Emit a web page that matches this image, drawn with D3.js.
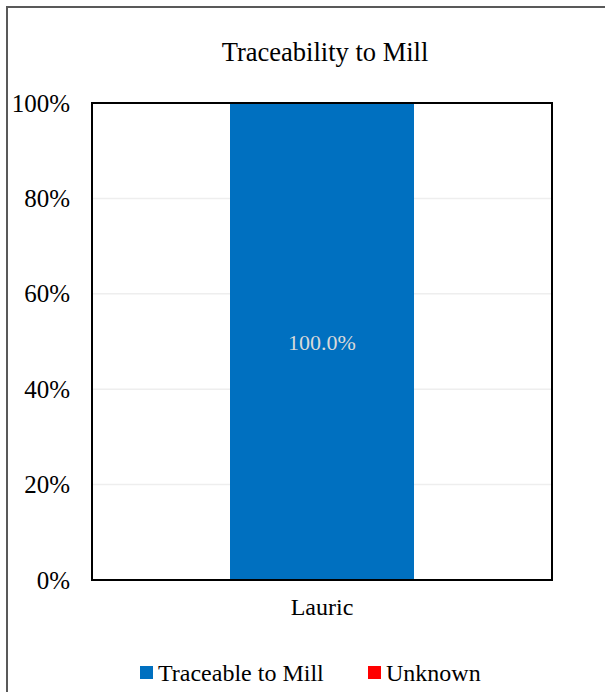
<!DOCTYPE html>
<html>
<head>
<meta charset="utf-8">
<script src="https://cdn.jsdelivr.net/npm/d3@7"></script>
<style>
  body { margin: 0; background: #fff; }
</style>
</head>
<body>
<div id="chartArea"></div>
<script>
const svgWidth = 605;
const svgHeight = 692;
const serif = '"Liberation Serif", "Times New Roman", serif';

const categories = ['Lauric'];
const seriesNames = ['Traceable to Mill', 'Unknown'];
const seriesColors = ['#0070c0', '#ff0000'];
const traceable = [1.0];
const unknown = [0.0];
const yTicks = [0, 0.2, 0.4, 0.6, 0.8, 1.0];

const margin = { left: 92, right: 53, top: 103, bottom: 112 };

const canvas = d3.select('#chartArea')
  .append('svg')
  .attr('width', svgWidth)
  .attr('height', svgHeight)
  .style('font-family', serif);

// outer chart frame
canvas.append('rect')
  .attr('x', 7)
  .attr('y', 7)
  .attr('width', 620)
  .attr('height', 720)
  .attr('fill', '#fff')
  .attr('stroke', '#595959')
  .attr('stroke-width', 2);

canvas.append('text')
  .attr('x', 325)
  .attr('y', 61)
  .attr('text-anchor', 'middle')
  .style('font-family', serif)
  .style('font-size', '26.5px')
  .text('Traceability to Mill');

const x = d3.scaleBand()
  .domain(categories)
  .range([margin.left, svgWidth - margin.right])
  .paddingInner(0.6)
  .paddingOuter(0.3);

const y = d3.scaleLinear()
  .domain([0, 1])
  .range([svgHeight - margin.bottom, margin.top]);

// gridlines
canvas.append('g')
  .selectAll('line')
  .data(yTicks.slice(1, -1))
  .join('line')
  .attr('x1', margin.left)
  .attr('x2', svgWidth - margin.right)
  .attr('y1', d => y(d))
  .attr('y2', d => y(d))
  .attr('stroke', '#eeeeee')
  .attr('stroke-width', 1.5);

const stack = d3.stack().keys([0, 1]).value((d, k) => d[k]);
const rows = categories.map((c, i) => [traceable[i], unknown[i]]);
const layers = stack(rows);

layers.forEach((layer, li) => {
  canvas.append('g')
    .selectAll('rect')
    .data(layer)
    .join('rect')
    .attr('x', (d, i) => x(categories[i]))
    .attr('width', x.bandwidth())
    .attr('y', d => y(d[1]))
    .attr('height', d => y(d[0]) - y(d[1]))
    .attr('fill', seriesColors[li]);
});

// value labels
canvas.append('g')
  .selectAll('text')
  .data(layers[0])
  .join('text')
  .attr('x', (d, i) => x(categories[i]) + x.bandwidth() / 2)
  .attr('y', d => (y(d[0]) + y(d[1])) / 2 + 8)
  .attr('text-anchor', 'middle')
  .style('font-family', serif)
  .style('font-size', '22px')
  .attr('fill', '#d9d9d9')
  .text((d, i) => d3.format('.1%')(traceable[i]));

// plot frame
canvas.append('rect')
  .attr('x', margin.left)
  .attr('y', margin.top)
  .attr('width', svgWidth - margin.left - margin.right)
  .attr('height', svgHeight - margin.top - margin.bottom)
  .attr('fill', 'none')
  .attr('stroke', '#000')
  .attr('stroke-width', 2);

const yAxis = canvas.append('g')
  .attr('transform', `translate(${margin.left},0)`)
  .call(d3.axisLeft(y).tickValues(yTicks).tickFormat(d3.format('.0%')).tickSize(0).tickPadding(22));
yAxis.select('.domain').remove();
yAxis.selectAll('text')
  .style('font-family', serif)
  .style('font-size', '25px')
  .attr('fill', '#000');

const xAxis = canvas.append('g')
  .attr('transform', `translate(0,${svgHeight - margin.bottom})`)
  .call(d3.axisBottom(x).tickSize(0).tickPadding(18));
xAxis.select('.domain').remove();
xAxis.selectAll('text')
  .style('font-family', serif)
  .style('font-size', '24px')
  .attr('fill', '#000');

// legend
const legendX = [140, 368];
const legend = canvas.append('g')
  .selectAll('g')
  .data(seriesNames)
  .join('g')
  .attr('transform', (d, i) => `translate(${legendX[i]},673)`);
legend.append('rect')
  .attr('x', 0)
  .attr('y', -7)
  .attr('width', 13)
  .attr('height', 13)
  .attr('fill', (d, i) => seriesColors[i]);
legend.append('text')
  .attr('x', 18)
  .attr('y', 8)
  .style('font-family', serif)
  .style('font-size', '24px')
  .text(d => d);
</script>
</body>
</html>
